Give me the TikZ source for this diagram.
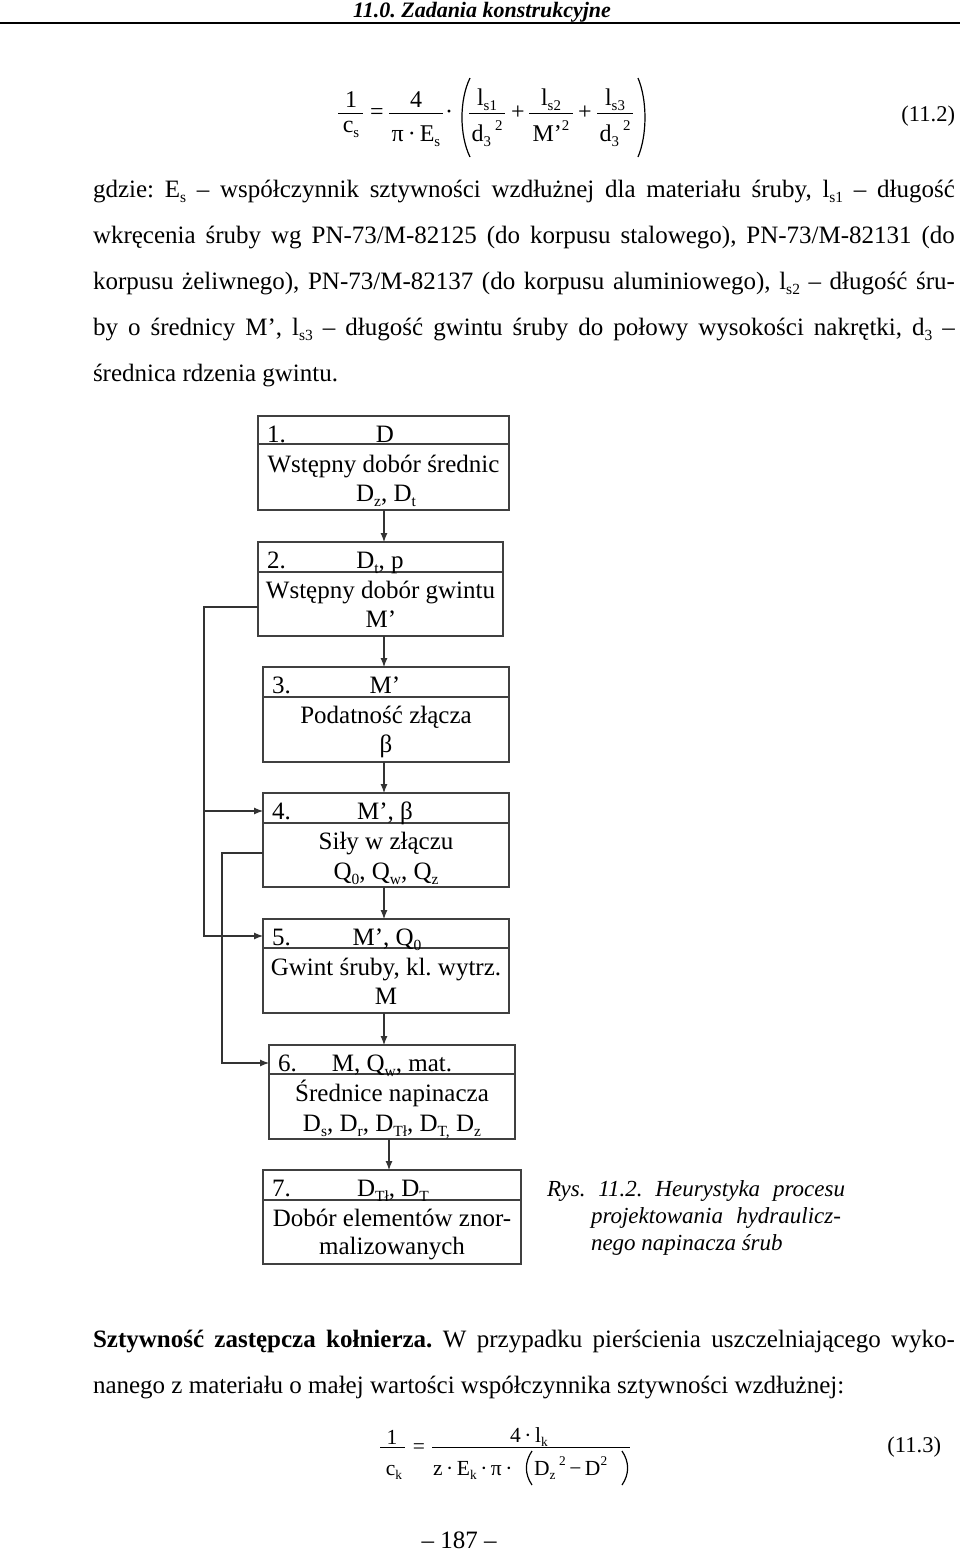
\documentclass[tikz,border=0pt]{standalone}
\usepackage{graphicx}
\usepackage{fontspec}
\setmainfont{Liberation Serif}
\usetikzlibrary{arrows.meta}
\frenchspacing
\newcommand\lo[1]{\raisebox{-0.22em}{\scalebox{0.62}{#1}}}
\newcommand\hi[1]{\raisebox{0.45em}{\scalebox{0.62}{#1}}}
\begin{document}
\frenchspacing
\begin{tikzpicture}[x=1pt,y=-1pt,
  every node/.style={inner sep=0pt, outer sep=0pt},
  body/.style={font=\fontsize{25}{30}\selectfont, anchor=base west},
  btxt/.style={font=\fontsize{25}{30}\selectfont, anchor=base},
  bnum/.style={font=\fontsize{25}{30}\selectfont, anchor=base west},
  captxt/.style={font=\fontsize{23}{27}\selectfont\itshape, anchor=base west},
  fmb/.style={font=\fontsize{24}{28}\selectfont, anchor=base},
  fm/.style={font=\fontsize{21.5}{26}\selectfont, anchor=base},
  eqno/.style={font=\fontsize{22.5}{26}\selectfont, anchor=base east},
  box/.style={draw=black!75, line width=1.3pt, anchor=north west},
  divl/.style={draw=black!75, line width=1.2pt},
  arr/.style={draw=black!80, line width=1.1pt, -{Latex[length=9pt,width=7pt]}},
  fbar/.style={line width=1pt},
  parenl/.style={line width=1.2pt}]
\useasboundingbox (0,0) rectangle (960,1553);
\fill[white] (0,0) rectangle (960,1553);

% header
\node[anchor=base, font=\fontsize{22}{26}\selectfont\bfseries\itshape] (hdr) at (482,17) {11.0. Zadania konstrukcyjne};
\draw[line width=2pt] (0,22.5) -- (960,22.5);

% formula 11.2
\node[fmb] (f1n) at (351,107) {1};
\node[fmb] (f1d) at (351,132) {c\lo{s}};
\draw[fbar] (338,113) -- (363,113);
\node[fmb] (eq1) at (377,119.5) {=};
\node[fmb] (f2n) at (416,107) {4};
\node[fmb] (f2d) at (416,141) {π\,·\,E\lo{s}};
\draw[fbar] (389,113) -- (443,113);
\node[fmb] (dot1) at (449,119.5) {·};
\draw[parenl] (470,78) .. controls (459.3,100) and (459.3,135) .. (470,157);
\node[fmb] (f3n) at (487,105) {l\lo{s1}};
\node[fmb] (f3d) at (487,141) {d\lo{3}\,\hi{2}};
\draw[fbar] (469,113) -- (505,113);
\node[fmb] (pl1) at (518,119.5) {+};
\node[fmb] (f4n) at (551,105) {l\lo{s2}};
\node[fmb] (f4d) at (551,141) {M’\hi{2}};
\draw[fbar] (529,113) -- (573,113);
\node[fmb] (pl2) at (585,119.5) {+};
\node[fmb] (f5n) at (615,105) {l\lo{s3}};
\node[fmb] (f5d) at (615,141) {d\lo{3}\,\hi{2}};
\draw[fbar] (597,113) -- (633,113);
\draw[parenl] (638,78) .. controls (647.3,100) and (647.3,135) .. (638,157);
\node[eqno] (eqn1) at (955,121) {(11.2)};

% paragraph
\node[body] (p1) at (93,197) {\makebox[862pt][s]{gdzie: E\lo{s} – współczynnik sztywności wzdłużnej dla materiału śruby, l\lo{s1} – długość}};
\node[body] (p2) at (93,243) {\makebox[862pt][s]{wkręcenia śruby wg PN-73/M-82125 (do korpusu stalowego), PN-73/M-82131 (do}};
\node[body] (p3) at (93,289) {\makebox[862pt][s]{korpusu żeliwnego), PN-73/M-82137 (do korpusu aluminiowego), l\lo{s2} – długość śru-}};
\node[body] (p4) at (93,335) {\makebox[862pt][s]{by o średnicy M’, l\lo{s3} – długość gwintu śruby do połowy wysokości nakrętki, d\lo{3} –}};
\node[body] (p5) at (93,381) {średnica rdzenia gwintu.};

% flowchart boxes
\node[box, minimum width=251pt, minimum height=94pt] (b1) at (258,416) {};
\draw[divl] ([yshift=-28pt]b1.north west) -- ([yshift=-28pt]b1.north east);
\node[bnum] (b1a) at (267,442) {1.};
\node[btxt] (b1b) at (385,442) {D};
\node[btxt] (b1c) at (383.5,472) {Wstępny dobór średnic};
\node[btxt] (b1d) at (386,501) {D\lo{z}, D\lo{t}};

\node[box, minimum width=245pt, minimum height=94pt] (b2) at (258,542) {};
\draw[divl] ([yshift=-30pt]b2.north west) -- ([yshift=-30pt]b2.north east);
\node[bnum] (b2a) at (267,568) {2.};
\node[btxt] (b2b) at (380,568) {D\lo{t}, p};
\node[btxt] (b2c) at (380.5,598) {Wstępny dobór gwintu};
\node[btxt] (b2d) at (381,627) {M’};

\node[box, minimum width=246pt, minimum height=95pt] (b3) at (263,667) {};
\draw[divl] ([yshift=-30pt]b3.north west) -- ([yshift=-30pt]b3.north east);
\node[bnum] (b3a) at (272,693) {3.};
\node[btxt] (b3b) at (385,693) {M’};
\node[btxt] (b3c) at (386,723) {Podatność złącza};
\node[btxt] (b3d) at (386,752) {β};

\node[box, minimum width=246pt, minimum height=94pt] (b4) at (263,793) {};
\draw[divl] ([yshift=-30pt]b4.north west) -- ([yshift=-30pt]b4.north east);
\node[bnum] (b4a) at (272,819) {4.};
\node[btxt] (b4b) at (385,819) {M’, β};
\node[btxt] (b4c) at (386,849) {Siły w złączu};
\node[btxt] (b4d) at (386,879) {Q\lo{0}, Q\lo{w}, Q\lo{z}};

\node[box, minimum width=246pt, minimum height=94pt] (b5) at (263,919) {};
\draw[divl] ([yshift=-29pt]b5.north west) -- ([yshift=-29pt]b5.north east);
\node[bnum] (b5a) at (272,945) {5.};
\node[btxt] (b5b) at (387,945) {M’, Q\lo{0}};
\node[btxt] (b5c) at (386,975) {Gwint śruby, kl. wytrz.};
\node[btxt] (b5d) at (386,1004) {M};

\node[box, minimum width=246pt, minimum height=94pt] (b6) at (269,1045) {};
\draw[divl] ([yshift=-29pt]b6.north west) -- ([yshift=-29pt]b6.north east);
\node[bnum] (b6a) at (278,1071) {6.};
\node[btxt] (b6b) at (392,1071) {M, Q\lo{w}, mat.};
\node[btxt] (b6c) at (392,1101) {Średnice napinacza};
\node[btxt] (b6d) at (392,1131) {D\lo{s}, D\lo{r}, D\lo{Tł}, D\lo{T,} D\lo{z}};

\node[box, minimum width=258pt, minimum height=94pt] (b7) at (263,1170) {};
\draw[divl] ([yshift=-30pt]b7.north west) -- ([yshift=-30pt]b7.north east);
\node[bnum] (b7a) at (272,1196) {7.};
\node[btxt] (b7b) at (393,1196) {D\lo{Tł}, D\lo{T}};
\node[btxt] (b7c) at (392,1226) {Dobór elementów znor-};
\node[btxt] (b7d) at (392,1254) {malizowanych};

% connectors
\coordinate (ax) at (384,0);
\coordinate (ay) at (389,0);
\draw[arr] (b1.south -| ax) -- (b2.north -| ax);
\draw[arr] (b2.south -| ax) -- (b3.north -| ax);
\draw[arr] (b3.south -| ax) -- (b4.north -| ax);
\draw[arr] (b4.south -| ax) -- (b5.north -| ax);
\draw[arr] (b5.south -| ax) -- (b6.north -| ax);
\draw[arr] (b6.south -| ay) -- (b7.north -| ay);
\coordinate (k1) at (204,607);
\coordinate (k2) at (204,936);
\coordinate (k3) at (204,811);
\draw[arr] (b2.west |- k1) -- (k1) -- (k2) -- (b5.west |- k2);
\draw[arr] (k3) -- (b4.west |- k3);
\coordinate (m1) at (222,853);
\coordinate (m2) at (222,1063);
\draw[arr] (b4.west |- m1) -- (m1) -- (m2) -- (b6.west |- m2);

% caption
\node[captxt] (c1) at (547,1196) {\makebox[298pt][s]{Rys. 11.2. Heurystyka procesu}};
\node[captxt] (c2) at (591,1223) {\makebox[250pt][s]{projektowania hydraulicz-}};
\node[captxt] (c3) at (591,1250) {nego napinacza śrub};

% bottom paragraph
\node[body] (q1) at (93,1347) {\makebox[862pt][s]{\textbf{Sztywność zastępcza kołnierza.} W przypadku pierścienia uszczelniającego wyko-}};
\node[body] (q2) at (93,1393) {nanego z materiału o małej wartości współczynnika sztywności wzdłużnej:};

% formula 11.3
\node[fm] (g1n) at (392,1444) {1};
\node[fm] (g1d) at (394,1475) {c\lo{k}};
\draw[fbar] (380,1447) -- (405,1447);
\node[fm] (eq2) at (419,1453) {=};
\node[fm] (g2n) at (529,1442) {4\,·\,l\lo{k}};
\draw[fbar] (432,1447) -- (630,1447);
\node[fm, anchor=base west] (g2d) at (433,1475) {z\,·\,E\lo{k}\,·\,π\,·};
\draw[parenl] (532,1451) .. controls (524.5,1462) and (524.5,1474) .. (532,1485);
\node[fm, anchor=base west] (g2e) at (534,1475) {D\lo{z}\,\hi{2}\,−\,D\hi{2}};
\draw[parenl] (622,1451) .. controls (629.5,1462) and (629.5,1474) .. (622,1485);
\node[eqno] (eqn2) at (941,1452) {(11.3)};

% page number
\node[btxt] (pg) at (459,1548) {– 187 –};
\end{tikzpicture}
\end{document}
